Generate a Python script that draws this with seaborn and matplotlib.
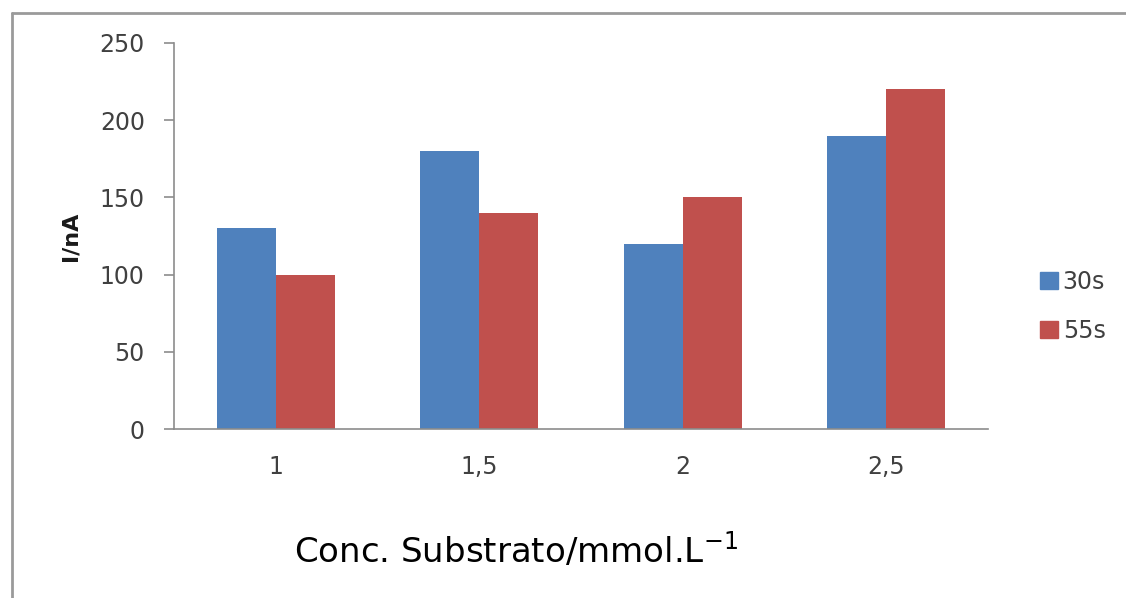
import matplotlib
matplotlib.use("Agg")
import matplotlib.pyplot as plt
from matplotlib.lines import Line2D
import seaborn as sns
import pandas as pd

# Daten
konzentrationen = ["1", "1,5", "2", "2,5"]
zeiten = ["30s", "55s"]
werte_30s = [130, 180, 120, 190]
werte_55s = [100, 140, 150, 220]
farben = ["#4F81BD", "#C0504D"]

df = pd.DataFrame({
    "konz": konzentrationen * 2,
    "zeit": [zeiten[0]] * 4 + [zeiten[1]] * 4,
    "strom": werte_30s + werte_55s,
})

sns.set_theme(style="white")
plt.rcParams["font.family"] = ["DejaVu Sans"]

fig = plt.figure(figsize=(11.26, 5.98), dpi=100)
ax = fig.add_axes([0.1545, 0.2826, 0.7229, 0.6455])

sns.barplot(data=df, x="konz", y="strom", hue="zeit", order=konzentrationen,
            hue_order=zeiten, palette=farben, width=0.58, gap=0,
            saturation=1, edgecolor="none", linewidth=0, ax=ax)

ax.set_ylim(0, 250)
ax.set_xlim(-0.5, 3.5)
ax.set_yticks([0, 50, 100, 150, 200, 250])
ax.set_xlabel("")
ax.set_ylabel("I/nA", fontsize=16, fontweight="bold", color="#1a1a1a", labelpad=14)

grau = "#8c8c8c"
for s in ["top", "right"]:
    ax.spines[s].set_visible(False)
for s in ["left", "bottom"]:
    ax.spines[s].set_color(grau)
    ax.spines[s].set_linewidth(1.2)
ax.tick_params(axis="y", direction="out", length=7, width=1.2, color=grau,
               labelsize=17, labelcolor="#404040", pad=14, left=True)
ax.tick_params(axis="x", length=0, labelsize=17, labelcolor="#404040", pad=19)

# Legende rechts
ax.legend_.remove()
handles = [plt.Rectangle((0, 0), 1, 1, color=c) for c in farben]
fig.legend(handles, zeiten, loc="center left", bbox_to_anchor=(0.905, 0.488),
           frameon=False, fontsize=17, handlelength=0.75, handleheight=0.75,
           handletextpad=0.2, labelspacing=1.05, labelcolor="#404040")

# Achsentitel unten
fig.text(0.458, 0.08, r"Conc. Substrato/mmol.L$^{-1}$", fontsize=24.5,
         color="black", ha="center", va="center")

# Rahmen links/oben
fig.add_artist(Line2D([0.0107, 0.0107], [0.0, 0.978], color="#9a9a9a", lw=2))
fig.add_artist(Line2D([0.0107, 1.0], [0.978, 0.978], color="#9a9a9a", lw=2))

plt.savefig("out.png", dpi=100)
